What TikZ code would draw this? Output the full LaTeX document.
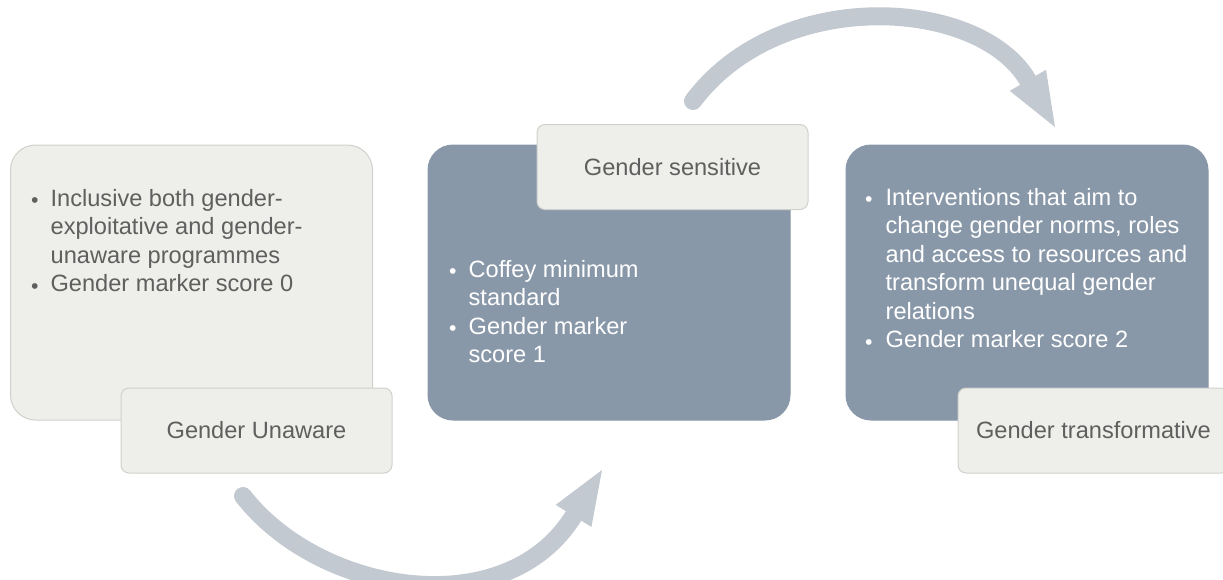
\documentclass[tikz,border=0pt]{standalone}
\usepackage{fontspec}
\setmainfont{Liberation Sans}
\usetikzlibrary{arrows.meta}

\definecolor{paper}{RGB}{238,238,234}
\definecolor{paperline}{RGB}{208,208,204}
\definecolor{slate}{RGB}{137,152,169}
\definecolor{ink}{RGB}{95,95,95}
\definecolor{flowgray}{RGB}{195,201,209}

\newcommand{\bul}{\raisebox{-1.5pt}{\scalebox{0.9}{•}}}

\begin{document}
\begin{tikzpicture}[x=1pt, y=-1pt,
	every node/.style={font=\fontsize{23.6}{28.5}\selectfont},
	panel/.style={rounded corners=25pt, minimum width=362pt, minimum height=275pt, line width=1pt},
	light/.style={panel, fill=paper, draw=paperline},
	dark/.style={panel, fill=slate, draw=slate},
	tag/.style={rounded corners=8pt, fill=paper, draw=paperline, line width=1pt, minimum width=271pt, minimum height=85pt, text=ink},
	items/.style={inner sep=0pt, anchor=base west},
	flow/.style={draw=flowgray, line width=18pt, line cap=round, -{Triangle[width=42pt, length=54pt, line width=0pt]}}]
	\useasboundingbox (0,0) rectangle (1223,579);

	\node[light] (unaware) at (191.5,282.5) {};
	\node[items, text=ink] (unawaretxt) at (31,206) {\begin{tabular}[t]{@{}l@{\hspace{12pt}}l@{}}
		\bul & Inclusive both gender-\\
		& exploitative and gender-\\
		& unaware programmes\\
		\bul & Gender marker score 0
	\end{tabular}};
	\node[tag] (unawaretag) at (256.5,430.5) {Gender Unaware};

	\node[dark] (sensitive) at (609,282.5) {};
	\node[items, text=white] (sensitivetxt) at (449,277) {\begin{tabular}[t]{@{}l@{\hspace{12pt}}l@{}}
		\bul & Coffey minimum\\
		& standard\\
		\bul & Gender marker\\
		& score 1
	\end{tabular}};
	\node[tag] (sensitivetag) at (672.5,167) {Gender sensitive};

	\node[dark] (transf) at (1027,282.5) {};
	\node[items, text=white] (transftxt) at (865,205) {\begin{tabular}[t]{@{}l@{\hspace{13pt}}l@{}}
		\bul & Interventions that aim to\\
		& change gender norms, roles\\
		& and access to resources and\\
		& transform unequal gender\\
		& relations\\
		\bul & Gender marker score 2
	\end{tabular}};
	\node[tag] (transftag) at (1093.5,430.5) {Gender transformative};

	\coordinate (lowstart) at (243,496);
	\coordinate (lowend) at (602,470);
	\coordinate (highstart) at (693,101);
	\coordinate (highend) at (1055,127);

	\draw[flow] (lowstart) .. controls (320,595) and (506,625) .. (lowend);
	\draw[flow] (highstart) .. controls (780,-15) and (980,-2) .. (highend);
\end{tikzpicture}
\end{document}
